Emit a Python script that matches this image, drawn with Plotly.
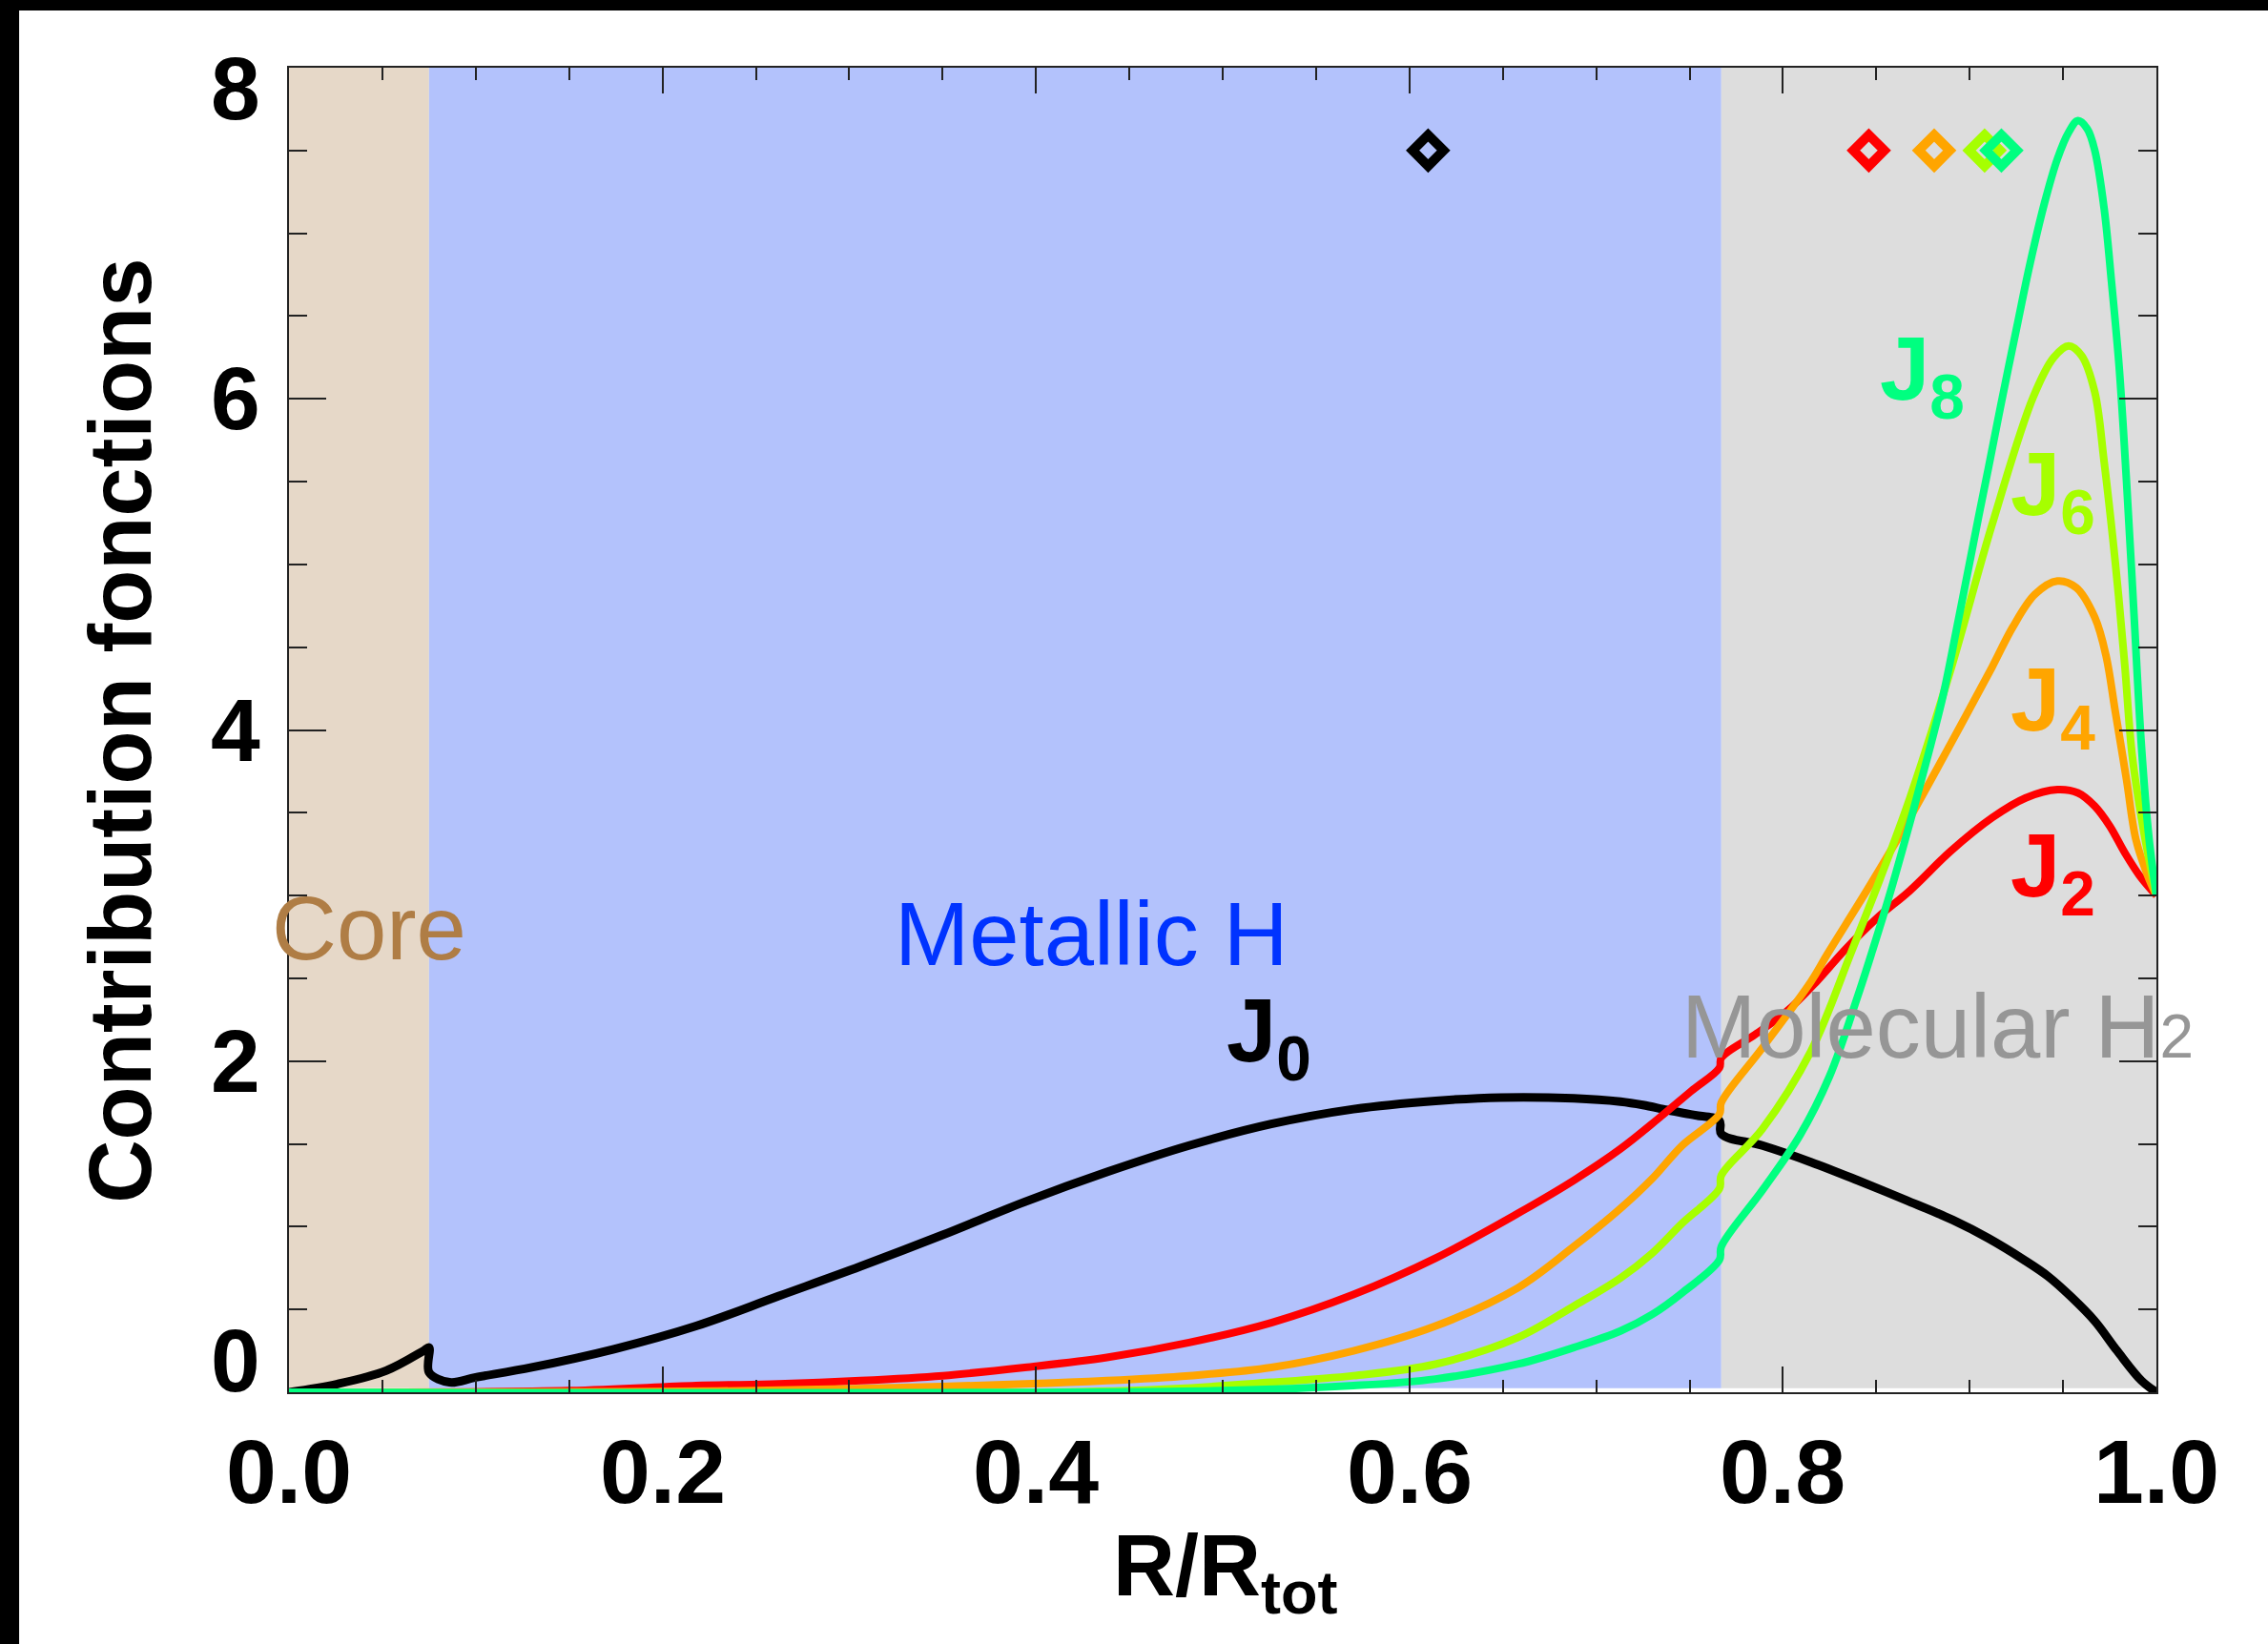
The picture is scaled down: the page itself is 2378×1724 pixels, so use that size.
import plotly.graph_objects as go

# ---------------------------------------------------------------- data
# radial coordinate and contribution functions J0 ... J8
X_J0 = [0.000, 0.026, 0.052, 0.072, 0.075, 0.075, 0.086, 0.100, 0.130, 0.174, 0.218,
        0.262, 0.306, 0.350, 0.394, 0.438, 0.482, 0.526, 0.570, 0.614, 0.649, 0.688,
        0.713, 0.725, 0.738, 0.752, 0.766, 0.767, 0.789, 0.815, 0.840, 0.866, 0.891,
        0.910, 0.929, 0.942, 0.954, 0.967, 0.979, 0.992, 1.000]
Y_J0 = [0.00, 0.05, 0.13, 0.25, 0.27, 0.12, 0.06, 0.09, 0.15, 0.26, 0.40,
        0.58, 0.76, 0.95, 1.15, 1.33, 1.49, 1.62, 1.71, 1.76, 1.78, 1.775,
        1.755, 1.735, 1.705, 1.675, 1.64, 1.56, 1.49, 1.39, 1.28, 1.16, 1.04,
        0.93, 0.80, 0.70, 0.58, 0.43, 0.25, 0.07, 0.00]

X_J2 = [0.000, 0.150, 0.218, 0.262, 0.306, 0.350, 0.394, 0.438, 0.482, 0.526, 0.570,
        0.614, 0.658, 0.688, 0.713, 0.733, 0.751, 0.766, 0.767, 0.785, 0.802, 0.818,
        0.833, 0.850, 0.868, 0.890, 0.912, 0.930, 0.947, 0.958, 0.967, 0.975, 0.983,
        0.991, 1.000]
Y_J2 = [0.00, 0.01, 0.04, 0.05, 0.07, 0.10, 0.15, 0.21, 0.30, 0.42, 0.59,
        0.81, 1.08, 1.28, 1.47, 1.65, 1.82, 1.96, 2.02, 2.16, 2.30, 2.48,
        2.67, 2.86, 3.03, 3.27, 3.47, 3.59, 3.64, 3.62, 3.54, 3.42, 3.26,
        3.12, 3.00]

X_J4 = [0.000, 0.250, 0.394, 0.438, 0.482, 0.526, 0.570, 0.614, 0.658, 0.688, 0.713,
        0.730, 0.746, 0.766, 0.767, 0.789, 0.815, 0.824, 0.846, 0.868, 0.890, 0.912,
        0.923, 0.935, 0.947, 0.957, 0.967, 0.973, 0.978, 0.984, 0.989, 0.995, 1.000]
Y_J4 = [0.00, 0.01, 0.05, 0.07, 0.10, 0.15, 0.25, 0.40, 0.63, 0.88, 1.11,
        1.29, 1.49, 1.68, 1.75, 2.08, 2.48, 2.65, 3.05, 3.47, 3.92, 4.38,
        4.62, 4.82, 4.90, 4.86, 4.68, 4.45, 4.11, 3.70, 3.34, 3.13, 3.00]

X_J6 = [0.000, 0.450, 0.526, 0.570, 0.614, 0.658, 0.688, 0.713, 0.730, 0.746, 0.766,
        0.767, 0.789, 0.815, 0.837, 0.852, 0.868, 0.890, 0.912, 0.934, 0.945, 0.953,
        0.960, 0.967, 0.972, 0.978, 0.983, 0.987, 0.993, 1.000]
Y_J6 = [0.00, 0.01, 0.06, 0.10, 0.17, 0.33, 0.52, 0.69, 0.84, 1.02, 1.23,
        1.31, 1.59, 2.06, 2.67, 3.10, 3.59, 4.37, 5.24, 6.01, 6.25, 6.32,
        6.26, 6.04, 5.62, 5.01, 4.40, 3.85, 3.40, 3.00]

X_J8 = [0.000, 0.500, 0.570, 0.614, 0.658, 0.688, 0.713, 0.730, 0.746, 0.766, 0.767,
        0.789, 0.809, 0.825, 0.840, 0.848, 0.857, 0.868, 0.878, 0.886, 0.893, 0.901,
        0.905, 0.910, 0.917, 0.925, 0.932, 0.940, 0.947, 0.953, 0.958, 0.963, 0.967,
        0.972, 0.976, 0.980, 0.984, 0.988, 0.992, 0.996, 1.000]
Y_J8 = [0.00, 0.01, 0.04, 0.08, 0.17, 0.27, 0.37, 0.47, 0.60, 0.80, 0.88,
        1.22, 1.55, 1.91, 2.39, 2.67, 3.00, 3.44, 3.86, 4.22, 4.61, 5.07,
        5.30, 5.58, 5.98, 6.42, 6.80, 7.18, 7.45, 7.61, 7.68, 7.63, 7.50,
        7.15, 6.70, 6.20, 5.50, 4.70, 3.90, 3.35, 3.00]

CURVE_NAMES = ["J0", "J2", "J4", "J6", "J8"]
CURVE_COLORS = ["#000000", "#FF0000", "#FFA500", "#A6FF00", "#00FF80"]
CURVE_WIDTHS = [9, 8, 8, 8, 8]

# mean radius of each contribution function (diamond markers)
DIAMOND_X = [0.610, 0.846, 0.881, 0.908, 0.917]
DIAMOND_Y = [7.5, 7.5, 7.5, 7.5, 7.5]

# interior layers
REGION_EDGES = [0.0, 0.075, 0.767, 1.0]
REGION_FILLS = ["#E6D8C8", "#B3C2FC", "#DDDDDD"]
REGION_LABELS = ["Core", "Metallic H", "Molecular H<span style=\"font-size:64px\">2</span>"]
REGION_LABEL_COLORS = ["#AF7D45", "#0033FF", "#969696"]
REGION_LABEL_POS = [(-0.0102, 2.80), (0.3233, 2.77), (0.7446, 2.21)]

# curve labels (left edge of the "J", centre of the capital)
CURVE_LABEL_POS = [(0.501, 2.19), (0.9208, 3.19), (0.9208, 4.19), (0.9208, 5.49), (0.8508, 6.19)]

X_TICKS = [0.0, 0.2, 0.4, 0.6, 0.8, 1.0]
X_TICK_TEXT = ["0.0", "0.2", "0.4", "0.6", "0.8", "1.0"]
Y_TICKS = [0, 2, 4, 6, 8]
Y_TICK_TEXT = ["0", "2", "4", "6", "8"]

X_TITLE = "R/R<sub>tot</sub>"
Y_TITLE = "Contribution fonctions"

FONT = "Liberation Sans, Arial, Helvetica, sans-serif"

# ---------------------------------------------------------------- figure
fig = go.Figure()

series = [(X_J0, Y_J0), (X_J2, Y_J2), (X_J4, Y_J4), (X_J6, Y_J6), (X_J8, Y_J8)]
for (xs, ys), name, col, w in zip(series, CURVE_NAMES, CURVE_COLORS, CURVE_WIDTHS):
    fig.add_trace(go.Scatter(
        x=xs, y=ys, mode="lines", name=name,
        line=dict(color=col, width=w, shape="spline", smoothing=1.0),
        showlegend=False, hoverinfo="skip",
    ))

for dx, dy, col, name in zip(DIAMOND_X, DIAMOND_Y, CURVE_COLORS, CURVE_NAMES):
    fig.add_trace(go.Scatter(
        x=[dx], y=[dy], mode="markers", name=name + " mean",
        marker=dict(symbol="diamond-open", size=25, color=col,
                    line=dict(color=col, width=10)),
        showlegend=False, hoverinfo="skip", cliponaxis=False,
    ))

# layer backgrounds
for x0, x1, fill in zip(REGION_EDGES[:-1], REGION_EDGES[1:], REGION_FILLS):
    fig.add_shape(type="rect", xref="x", yref="y", x0=x0, x1=x1, y0=0.025, y1=8,
                  fillcolor=fill, line=dict(width=0), layer="below")

annotations = []

# layer names (x in paper units so that a label may start left of the axis)
for text, col, (ax, ay) in zip(REGION_LABELS, REGION_LABEL_COLORS, REGION_LABEL_POS):
    annotations.append(dict(
        x=ax, y=ay, xref="paper", yref="y", text=text, showarrow=False,
        xanchor="left", yanchor="middle",
        font=dict(family=FONT, size=94, color=col),
    ))

# curve names
for name, col, (ax, ay) in zip(CURVE_NAMES, CURVE_COLORS, CURVE_LABEL_POS):
    annotations.append(dict(
        x=ax, y=ay, xref="x", yref="y", text="J<sub>" + name[1:] + "</sub>",
        showarrow=False, xanchor="left", yanchor="middle", yshift=-8,
        font=dict(family=FONT, size=94, color=col, weight="bold"),
    ))

# tick labels
for tv, tt in zip(X_TICKS, X_TICK_TEXT):
    annotations.append(dict(
        x=tv, y=-0.0598, xref="x", yref="paper", text=tt, showarrow=False,
        xanchor="center", yanchor="middle",
        font=dict(family=FONT, size=95, color="#000000", weight="bold"),
    ))
y_label_shift = {0: 33, 8: -22}
for tv, tt in zip(Y_TICKS, Y_TICK_TEXT):
    annotations.append(dict(
        x=-0.0143, y=tv, xref="paper", yref="y", text=tt, showarrow=False,
        xanchor="right", yanchor="middle", yshift=y_label_shift.get(tv, 0),
        font=dict(family=FONT, size=93, color="#000000", weight="bold"),
    ))

# axis titles
annotations.append(dict(
    x=0.5015, y=-0.136, xref="paper", yref="paper", text=X_TITLE, showarrow=False,
    xanchor="center", yanchor="middle",
    font=dict(family=FONT, size=90, color="#000000", weight="bold"),
))
annotations.append(dict(
    x=-0.0905, y=0.4996, xref="paper", yref="paper", text=Y_TITLE, showarrow=False,
    textangle=-90, xanchor="center", yanchor="middle",
    font=dict(family=FONT, size=92, color="#000000", weight="bold"),
))

# dark frame along the top and left edges of the page
fig.add_shape(type="rect", xref="paper", yref="paper", x0=-0.1548, x1=1.0598,
              y0=1.0432, y1=1.0520, fillcolor="#000000", line=dict(width=0), layer="above")
fig.add_shape(type="rect", xref="paper", yref="paper", x0=-0.1548, x1=-0.1445,
              y0=-0.1910, y1=1.0520, fillcolor="#000000", line=dict(width=0), layer="above")

axis_common = dict(
    showgrid=False, zeroline=False, showline=True, linecolor="#222222", linewidth=2,
    mirror="ticks", ticks="inside", tickcolor="#222222", tickwidth=2,
    showticklabels=False,
)
fig.update_xaxes(range=[0, 1], tickvals=X_TICKS, ticklen=27,
                 minor=dict(ticks="inside", dtick=0.05, ticklen=13, tickcolor="#222222", tickwidth=2),
                 **axis_common)
fig.update_yaxes(range=[0, 8], tickvals=Y_TICKS, ticklen=39,
                 minor=dict(ticks="inside", dtick=0.5, ticklen=19, tickcolor="#222222", tickwidth=2),
                 **axis_common)

fig.update_layout(
    width=2378, height=1724, autosize=False,
    margin=dict(l=303, r=117, t=71, b=264, pad=0),
    paper_bgcolor="#FFFFFF", plot_bgcolor="#FFFFFF",
    annotations=annotations,
    font=dict(family=FONT),
)

fig.write_html("out.html")
